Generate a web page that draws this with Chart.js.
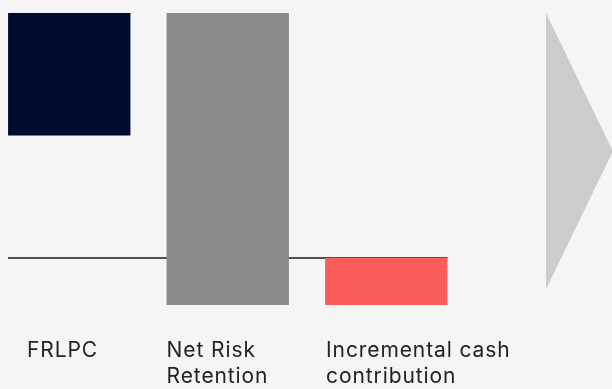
<!DOCTYPE html>
<html>
<head>
<meta charset="utf-8">
<script src="https://cdn.jsdelivr.net/npm/chart.js@4/dist/chart.umd.min.js"></script>
<style>
  html, body { margin: 0; padding: 0; background: #f5f5f5; }
  #frame { position: relative; width: 612px; height: 389px; overflow: hidden; background: #f5f5f5; }
  #wrap { position: absolute; left: -10px; top: 0; width: 634px; height: 389px; }
</style>
</head>
<body>
<div id="frame"><div id="wrap"><canvas id="c"></canvas></div></div>
<script>
// ---- data ----
const categories = [["FRLPC"], ["Net Risk", "Retention"], ["Incremental cash", "contribution"], [""]];
const barRanges = [[25, 50], [-9.6, 50], [-9.6, 0], null];
const barColors = ["#010a2f", "#8b8b8b", "#fa5c5c", "transparent"];
const arrowUpper = [{x: 3.008, y: 50}, {x: 3.43, y: 21.8}];
const arrowLower = [{x: 3.008, y: -6.4}, {x: 3.43, y: 21.8}];
const yMin = -10, yMax = 50;

const labelOffsets = [19, 0, 1];

const decor = {
  id: 'decor',
  beforeDatasetsDraw(chart) {
    const meta = chart.getDatasetMeta(0);
    const y0 = chart.scales.y.getPixelForValue(0);
    const first = meta.data[0], last = meta.data[2];
    const ctx = chart.ctx;
    ctx.save();
    ctx.strokeStyle = '#1a1a1a';
    ctx.lineWidth = 1.5;
    ctx.beginPath();
    ctx.moveTo(first.x - first.width / 2, y0);
    ctx.lineTo(last.x + last.width / 2, y0);
    ctx.stroke();
    ctx.restore();
  },
  afterDraw(chart) {
    const meta = chart.getDatasetMeta(0);
    const ctx = chart.ctx;
    ctx.save();
    ctx.fillStyle = '#222222';
    ctx.font = '21px Inter, "Noto Sans", sans-serif';
    if ('letterSpacing' in ctx) ctx.letterSpacing = '0.9px';
    ctx.textAlign = 'left';
    ctx.textBaseline = 'alphabetic';
    for (let i = 0; i < 3; i++) {
      const bar = meta.data[i];
      const x = bar.x - bar.width / 2 + labelOffsets[i];
      categories[i].forEach((line, j) => {
        ctx.fillText(line, x, 357 + j * 26);
      });
    }
    ctx.restore();
  }
};

new Chart(document.getElementById('c'), {
  data: {
    labels: categories,
    datasets: [
      {
        type: 'bar',
        data: barRanges,
        backgroundColor: barColors,
        borderWidth: 0,
        grouped: false,
        barPercentage: 0.772,
        categoryPercentage: 1.0,
        xAxisID: 'x',
        order: 2
      },
      {
        type: 'line',
        data: arrowUpper,
        xAxisID: 'x2',
        borderWidth: 0,
        pointRadius: 0,
        fill: false,
        order: 1
      },
      {
        type: 'line',
        data: arrowLower,
        xAxisID: 'x2',
        borderWidth: 0,
        pointRadius: 0,
        backgroundColor: '#cccccc',
        fill: '-1',
        order: 1
      }
    ]
  },
  options: {
    responsive: true,
    maintainAspectRatio: false,
    animation: false,
    layout: { padding: { top: 13, bottom: 82, left: 0, right: 0 } },
    plugins: { legend: { display: false }, tooltip: { enabled: false }, filler: { propagate: false } },
    scales: {
      x: { type: 'category', display: false, offset: true },
      x2: { type: 'linear', display: false, min: -0.5, max: 3.5 },
      y: { type: 'linear', display: false, min: yMin, max: yMax }
    }
  },
  plugins: [decor]
});
</script>
</body>
</html>
